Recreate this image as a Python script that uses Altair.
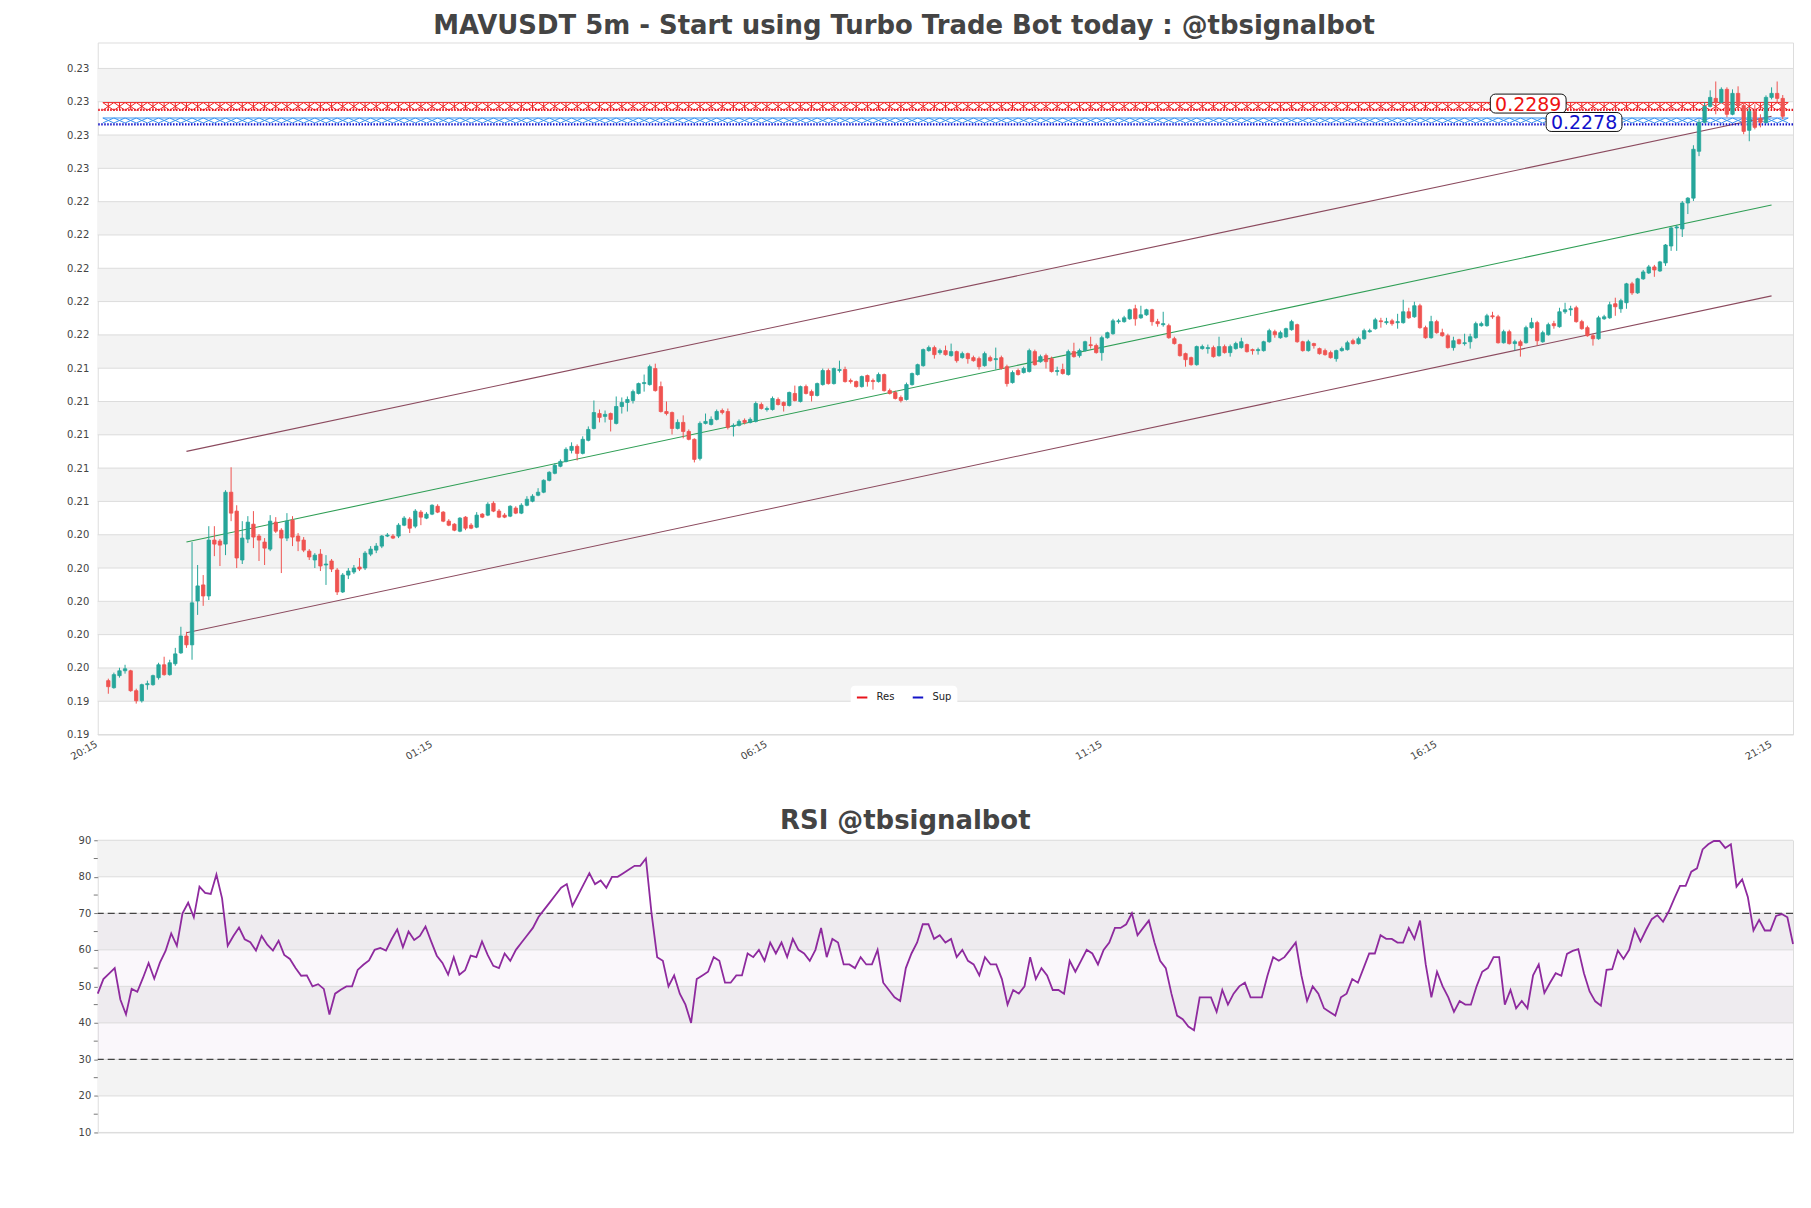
import altair as alt
import pandas as pd

UP = "#26a69a"
DOWN = "#ef5350"

# ---------------- candle data ----------------
opens = [
0.19442, 0.19400, 0.19472, 0.19501, 0.19501, 0.19382, 0.19322, 0.19418, 0.19418, 0.19460,
0.19537, 0.19478, 0.19543, 0.19608, 0.19709, 0.19656, 0.19918, 0.20014, 0.19948, 0.20282,
0.20276, 0.20258, 0.20568, 0.20455, 0.20163, 0.20288, 0.20377, 0.20306, 0.20270, 0.20228,
0.20389, 0.20341, 0.20294, 0.20401, 0.20306, 0.20282, 0.20216, 0.20163, 0.20198, 0.20133,
0.20157, 0.20103, 0.19972, 0.20073, 0.20091, 0.20121, 0.20115, 0.20198, 0.20222, 0.20246,
0.20306, 0.20306, 0.20306, 0.20371, 0.20407, 0.20365, 0.20449, 0.20413, 0.20437, 0.20484,
0.20449, 0.20395, 0.20377, 0.20335, 0.20419, 0.20371, 0.20359, 0.20437, 0.20431, 0.20502,
0.20455, 0.20431, 0.20425, 0.20473, 0.20443, 0.20490, 0.20514, 0.20550, 0.20568, 0.20639,
0.20681, 0.20723, 0.20752, 0.20818, 0.20842, 0.20800, 0.20878, 0.20949, 0.21038, 0.21021,
0.21038, 0.20979, 0.21080, 0.21104, 0.21116, 0.21158, 0.21217, 0.21211, 0.21307, 0.21199,
0.21050, 0.21044, 0.20949, 0.20985, 0.20931, 0.20884, 0.20770, 0.20979, 0.20973, 0.21003,
0.21056, 0.21050, 0.20961, 0.20967, 0.20997, 0.20985, 0.20991, 0.21092, 0.21062, 0.21062,
0.21122, 0.21104, 0.21086, 0.21158, 0.21110, 0.21199, 0.21169, 0.21146, 0.21211, 0.21295,
0.21217, 0.21295, 0.21301, 0.21235, 0.21229, 0.21199, 0.21265, 0.21235, 0.21229, 0.21271,
0.21175, 0.21164, 0.21134, 0.21122, 0.21211, 0.21271, 0.21324, 0.21414, 0.21432, 0.21402,
0.21414, 0.21384, 0.21408, 0.21372, 0.21396, 0.21372, 0.21366, 0.21324, 0.21372, 0.21360,
0.21372, 0.21318, 0.21223, 0.21295, 0.21283, 0.21289, 0.21408, 0.21348, 0.21384, 0.21366,
0.21289, 0.21301, 0.21271, 0.21408, 0.21384, 0.21414, 0.21449, 0.21444, 0.21402, 0.21491,
0.21515, 0.21587, 0.21587, 0.21604, 0.21664, 0.21610, 0.21628, 0.21658, 0.21587, 0.21569,
0.21563, 0.21485, 0.21450, 0.21396, 0.21372, 0.21330, 0.21426, 0.21426, 0.21432, 0.21384,
0.21438, 0.21402, 0.21426, 0.21432, 0.21450, 0.21420, 0.21414, 0.21414, 0.21467, 0.21527,
0.21491, 0.21497, 0.21539, 0.21569, 0.21467, 0.21414, 0.21456, 0.21426, 0.21414, 0.21402,
0.21366, 0.21414, 0.21420, 0.21473, 0.21456, 0.21485, 0.21527, 0.21545, 0.21592, 0.21581,
0.21592, 0.21581, 0.21581, 0.21646, 0.21616, 0.21682, 0.21551, 0.21491, 0.21587, 0.21521,
0.21503, 0.21432, 0.21479, 0.21456, 0.21467, 0.21491, 0.21563, 0.21563, 0.21622, 0.21616,
0.21461, 0.21527, 0.21456, 0.21467, 0.21461, 0.21551, 0.21581, 0.21467, 0.21509, 0.21575,
0.21557, 0.21646, 0.21658, 0.21670, 0.21587, 0.21551, 0.21503, 0.21485, 0.21604, 0.21610,
0.21694, 0.21664, 0.21700, 0.21813, 0.21759, 0.21843, 0.21878, 0.21914, 0.21890, 0.21938,
0.22039, 0.22147, 0.22141, 0.22296, 0.22325, 0.22605, 0.22778, 0.22873, 0.22921, 0.22897,
0.22975, 0.22826, 0.22951, 0.22879, 0.22730, 0.22844, 0.22802, 0.22778, 0.22927, 0.22951, 0.22921]

closes = [
0.19406, 0.19478, 0.19501, 0.19513, 0.19382, 0.19322, 0.19418, 0.19424, 0.19472, 0.19537,
0.19478, 0.19549, 0.19602, 0.19709, 0.19656, 0.19907, 0.20008, 0.19948, 0.20282, 0.20258,
0.20252, 0.20568, 0.20443, 0.20175, 0.20294, 0.20389, 0.20300, 0.20282, 0.20234, 0.20395,
0.20335, 0.20294, 0.20395, 0.20300, 0.20276, 0.20222, 0.20181, 0.20192, 0.20127, 0.20139,
0.20109, 0.19972, 0.20073, 0.20097, 0.20115, 0.20109, 0.20204, 0.20228, 0.20246, 0.20306,
0.20312, 0.20294, 0.20371, 0.20413, 0.20353, 0.20455, 0.20419, 0.20437, 0.20490, 0.20449,
0.20395, 0.20371, 0.20341, 0.20413, 0.20353, 0.20353, 0.20431, 0.20419, 0.20496, 0.20455,
0.20419, 0.20419, 0.20484, 0.20443, 0.20490, 0.20526, 0.20544, 0.20568, 0.20639, 0.20687,
0.20729, 0.20752, 0.20824, 0.20842, 0.20800, 0.20884, 0.20943, 0.21044, 0.21015, 0.21033,
0.21003, 0.21080, 0.21104, 0.21122, 0.21169, 0.21217, 0.21223, 0.21318, 0.21175, 0.21050,
0.21038, 0.20949, 0.20985, 0.20931, 0.20884, 0.20764, 0.20979, 0.20991, 0.21003, 0.21050,
0.21044, 0.20955, 0.20967, 0.20991, 0.20985, 0.21003, 0.21098, 0.21068, 0.21068, 0.21128,
0.21092, 0.21086, 0.21164, 0.21116, 0.21199, 0.21158, 0.21146, 0.21217, 0.21295, 0.21217,
0.21307, 0.21301, 0.21229, 0.21229, 0.21199, 0.21259, 0.21229, 0.21229, 0.21271, 0.21175,
0.21158, 0.21128, 0.21116, 0.21211, 0.21277, 0.21330, 0.21420, 0.21432, 0.21390, 0.21414,
0.21390, 0.21408, 0.21354, 0.21396, 0.21366, 0.21354, 0.21318, 0.21396, 0.21354, 0.21366,
0.21307, 0.21217, 0.21283, 0.21271, 0.21307, 0.21414, 0.21330, 0.21378, 0.21348, 0.21289,
0.21295, 0.21277, 0.21408, 0.21378, 0.21414, 0.21467, 0.21444, 0.21402, 0.21491, 0.21521,
0.21592, 0.21592, 0.21610, 0.21658, 0.21604, 0.21628, 0.21658, 0.21587, 0.21575, 0.21575,
0.21491, 0.21456, 0.21384, 0.21360, 0.21330, 0.21438, 0.21438, 0.21432, 0.21378, 0.21438,
0.21402, 0.21438, 0.21456, 0.21467, 0.21408, 0.21414, 0.21420, 0.21467, 0.21533, 0.21509,
0.21521, 0.21545, 0.21587, 0.21467, 0.21414, 0.21467, 0.21444, 0.21396, 0.21390, 0.21372,
0.21414, 0.21426, 0.21461, 0.21456, 0.21485, 0.21533, 0.21533, 0.21598, 0.21587, 0.21587,
0.21575, 0.21587, 0.21646, 0.21610, 0.21682, 0.21551, 0.21491, 0.21587, 0.21521, 0.21503,
0.21432, 0.21473, 0.21456, 0.21461, 0.21497, 0.21575, 0.21575, 0.21622, 0.21616, 0.21461,
0.21527, 0.21456, 0.21467, 0.21444, 0.21551, 0.21581, 0.21473, 0.21521, 0.21569, 0.21563,
0.21646, 0.21658, 0.21664, 0.21587, 0.21545, 0.21503, 0.21485, 0.21610, 0.21616, 0.21688,
0.21676, 0.21712, 0.21813, 0.21759, 0.21843, 0.21884, 0.21914, 0.21896, 0.21944, 0.22045,
0.22147, 0.22153, 0.22296, 0.22325, 0.22617, 0.22778, 0.22873, 0.22927, 0.22897, 0.22975,
0.22826, 0.22951, 0.22879, 0.22724, 0.22844, 0.22748, 0.22778, 0.22927, 0.22951, 0.22921, 0.22814]

highs = [
0.19454, 0.19490, 0.19519, 0.19537, 0.19507, 0.19394, 0.19424, 0.19442, 0.19478, 0.19549,
0.19585, 0.19567, 0.19638, 0.19764, 0.19734, 0.20270, 0.20133, 0.20073, 0.20365, 0.20365,
0.20288, 0.20580, 0.20717, 0.20490, 0.20395, 0.20425, 0.20455, 0.20318, 0.20294, 0.20431,
0.20419, 0.20353, 0.20443, 0.20425, 0.20324, 0.20300, 0.20228, 0.20204, 0.20228, 0.20192,
0.20169, 0.20115, 0.20085, 0.20115, 0.20133, 0.20175, 0.20216, 0.20246, 0.20264, 0.20312,
0.20324, 0.20318, 0.20383, 0.20425, 0.20419, 0.20467, 0.20461, 0.20449, 0.20496, 0.20496,
0.20455, 0.20407, 0.20383, 0.20419, 0.20425, 0.20383, 0.20449, 0.20443, 0.20508, 0.20514,
0.20467, 0.20443, 0.20490, 0.20484, 0.20502, 0.20544, 0.20556, 0.20592, 0.20645, 0.20693,
0.20741, 0.20764, 0.20836, 0.20866, 0.20854, 0.20902, 0.20961, 0.21116, 0.21062, 0.21056,
0.21044, 0.21140, 0.21134, 0.21140, 0.21181, 0.21223, 0.21271, 0.21330, 0.21336, 0.21229,
0.21110, 0.21050, 0.21003, 0.21027, 0.20943, 0.20890, 0.20991, 0.21038, 0.21021, 0.21062,
0.21068, 0.21068, 0.20979, 0.21003, 0.21009, 0.21015, 0.21110, 0.21104, 0.21080, 0.21140,
0.21134, 0.21110, 0.21169, 0.21205, 0.21205, 0.21211, 0.21181, 0.21223, 0.21307, 0.21307,
0.21313, 0.21354, 0.21318, 0.21247, 0.21235, 0.21265, 0.21271, 0.21247, 0.21283, 0.21277,
0.21187, 0.21175, 0.21146, 0.21223, 0.21283, 0.21336, 0.21426, 0.21444, 0.21444, 0.21426,
0.21444, 0.21456, 0.21414, 0.21408, 0.21402, 0.21384, 0.21378, 0.21408, 0.21384, 0.21432,
0.21384, 0.21330, 0.21295, 0.21307, 0.21318, 0.21426, 0.21420, 0.21390, 0.21396, 0.21378,
0.21318, 0.21336, 0.21420, 0.21461, 0.21426, 0.21473, 0.21497, 0.21456, 0.21503, 0.21527,
0.21604, 0.21604, 0.21622, 0.21664, 0.21688, 0.21682, 0.21664, 0.21664, 0.21604, 0.21646,
0.21575, 0.21497, 0.21456, 0.21402, 0.21378, 0.21444, 0.21450, 0.21450, 0.21444, 0.21497,
0.21450, 0.21450, 0.21467, 0.21491, 0.21456, 0.21426, 0.21432, 0.21473, 0.21545, 0.21539,
0.21533, 0.21551, 0.21598, 0.21575, 0.21473, 0.21479, 0.21461, 0.21432, 0.21426, 0.21414,
0.21420, 0.21438, 0.21473, 0.21485, 0.21497, 0.21545, 0.21545, 0.21610, 0.21610, 0.21610,
0.21604, 0.21634, 0.21718, 0.21670, 0.21706, 0.21694, 0.21563, 0.21622, 0.21598, 0.21545,
0.21515, 0.21497, 0.21485, 0.21515, 0.21515, 0.21587, 0.21587, 0.21634, 0.21646, 0.21628,
0.21539, 0.21539, 0.21479, 0.21479, 0.21563, 0.21610, 0.21592, 0.21533, 0.21581, 0.21592,
0.21670, 0.21700, 0.21682, 0.21682, 0.21598, 0.21563, 0.21515, 0.21622, 0.21628, 0.21706,
0.21730, 0.21724, 0.21819, 0.21825, 0.21849, 0.21896, 0.21926, 0.21926, 0.21950, 0.22051,
0.22153, 0.22165, 0.22308, 0.22331, 0.22641, 0.22796, 0.22897, 0.22969, 0.23022, 0.22987,
0.22987, 0.22975, 0.22993, 0.22897, 0.22867, 0.22885, 0.22826, 0.22939, 0.22987, 0.23022, 0.22941]

lows = [
0.19364, 0.19394, 0.19460, 0.19484, 0.19376, 0.19305, 0.19311, 0.19388, 0.19412, 0.19448,
0.19472, 0.19472, 0.19531, 0.19602, 0.19638, 0.19567, 0.19835, 0.19889, 0.19924, 0.20186,
0.20127, 0.20192, 0.20395, 0.20115, 0.20139, 0.20264, 0.20234, 0.20157, 0.20133, 0.20216,
0.20324, 0.20085, 0.20276, 0.20246, 0.20216, 0.20210, 0.20163, 0.20115, 0.20097, 0.20014,
0.20091, 0.19954, 0.19966, 0.20049, 0.20079, 0.20097, 0.20103, 0.20186, 0.20204, 0.20234,
0.20300, 0.20288, 0.20294, 0.20365, 0.20324, 0.20353, 0.20371, 0.20407, 0.20431, 0.20443,
0.20389, 0.20365, 0.20335, 0.20329, 0.20341, 0.20347, 0.20353, 0.20413, 0.20425, 0.20449,
0.20413, 0.20413, 0.20419, 0.20437, 0.20437, 0.20484, 0.20508, 0.20544, 0.20562, 0.20633,
0.20675, 0.20717, 0.20746, 0.20800, 0.20758, 0.20794, 0.20872, 0.20943, 0.20985, 0.20985,
0.20931, 0.20973, 0.21038, 0.21050, 0.21098, 0.21152, 0.21169, 0.21205, 0.21169, 0.21044,
0.21027, 0.20913, 0.20943, 0.20890, 0.20878, 0.20746, 0.20758, 0.20973, 0.20967, 0.20997,
0.21033, 0.20943, 0.20901, 0.20961, 0.20973, 0.20979, 0.20985, 0.21062, 0.21050, 0.21056,
0.21086, 0.21050, 0.21080, 0.21110, 0.21104, 0.21152, 0.21110, 0.21140, 0.21205, 0.21211,
0.21211, 0.21283, 0.21223, 0.21217, 0.21193, 0.21193, 0.21199, 0.21181, 0.21223, 0.21169,
0.21152, 0.21122, 0.21104, 0.21116, 0.21205, 0.21265, 0.21318, 0.21408, 0.21366, 0.21390,
0.21384, 0.21378, 0.21342, 0.21366, 0.21336, 0.21348, 0.21301, 0.21318, 0.21348, 0.21301,
0.21301, 0.21199, 0.21217, 0.21265, 0.21277, 0.21283, 0.21324, 0.21342, 0.21307, 0.21283,
0.21265, 0.21271, 0.21265, 0.21372, 0.21372, 0.21408, 0.21426, 0.21396, 0.21354, 0.21485,
0.21509, 0.21575, 0.21581, 0.21598, 0.21563, 0.21604, 0.21622, 0.21563, 0.21557, 0.21557,
0.21485, 0.21450, 0.21378, 0.21318, 0.21324, 0.21324, 0.21420, 0.21396, 0.21372, 0.21378,
0.21396, 0.21378, 0.21420, 0.21426, 0.21402, 0.21390, 0.21390, 0.21408, 0.21461, 0.21491,
0.21485, 0.21491, 0.21533, 0.21461, 0.21408, 0.21408, 0.21426, 0.21390, 0.21384, 0.21366,
0.21348, 0.21408, 0.21414, 0.21450, 0.21450, 0.21479, 0.21521, 0.21539, 0.21551, 0.21569,
0.21563, 0.21545, 0.21575, 0.21604, 0.21610, 0.21545, 0.21485, 0.21485, 0.21515, 0.21497,
0.21426, 0.21414, 0.21450, 0.21444, 0.21426, 0.21485, 0.21557, 0.21557, 0.21604, 0.21456,
0.21456, 0.21450, 0.21414, 0.21378, 0.21456, 0.21545, 0.21444, 0.21461, 0.21503, 0.21545,
0.21551, 0.21634, 0.21622, 0.21581, 0.21539, 0.21497, 0.21444, 0.21479, 0.21598, 0.21604,
0.21622, 0.21640, 0.21664, 0.21747, 0.21753, 0.21837, 0.21872, 0.21855, 0.21884, 0.21920,
0.22010, 0.22010, 0.22093, 0.22230, 0.22308, 0.22576, 0.22772, 0.22867, 0.22826, 0.22891,
0.22808, 0.22820, 0.22855, 0.22707, 0.22665, 0.22736, 0.22748, 0.22772, 0.22915, 0.22897, 0.22796]

rsi_values = [
48.0, 52.0, 53.5, 55.0, 46.4, 42.3, 49.3, 48.5, 52.3, 56.4,
52.1, 56.5, 59.7, 64.5, 61.1, 70.0, 72.9, 68.9, 77.3, 75.6,
75.3, 80.6, 74.1, 61.1, 63.8, 66.1, 62.9, 62.1, 59.8, 63.8,
61.4, 59.8, 62.5, 58.6, 57.5, 55.0, 52.9, 53.0, 50.0, 50.6,
49.3, 42.3, 48.0, 49.1, 50.0, 50.0, 54.5, 55.9, 57.1, 60.0,
60.5, 59.8, 62.9, 65.6, 60.7, 65.0, 62.7, 63.8, 66.4, 62.3,
58.4, 56.4, 53.2, 58.0, 53.2, 54.4, 58.4, 58.0, 62.3, 58.6,
55.6, 55.0, 59.0, 57.0, 60.0, 62.0, 64.0, 66.0, 69.0, 71.0,
73.0, 75.0, 77.0, 78.0, 72.0, 75.0, 78.0, 81.0, 78.0, 79.0,
77.0, 80.0, 80.0, 81.0, 82.0, 83.0, 83.0, 85.0, 70.0, 58.0,
57.0, 50.0, 53.0, 48.0, 45.0, 40.0, 52.0, 53.0, 54.0, 58.0,
57.0, 51.0, 51.0, 53.0, 53.0, 59.0, 58.0, 60.0, 57.0, 62.0,
59.0, 62.0, 58.0, 63.0, 60.0, 59.0, 57.0, 60.0, 66.0, 58.0,
63.0, 62.0, 56.0, 56.0, 55.0, 58.0, 56.0, 56.0, 60.0, 51.0,
49.0, 47.0, 46.0, 55.0, 59.0, 62.0, 67.0, 67.0, 63.0, 64.0,
62.0, 63.0, 58.0, 60.0, 57.0, 56.0, 53.0, 58.0, 56.0, 56.0,
52.0, 45.0, 49.0, 48.0, 50.0, 58.0, 52.0, 55.0, 53.0, 49.0,
49.0, 48.0, 57.0, 54.0, 57.0, 60.0, 59.0, 56.0, 60.0, 62.0,
66.0, 66.0, 67.0, 70.0, 64.0, 66.0, 68.0, 62.0, 57.0, 55.0,
48.0, 42.0, 41.0, 39.0, 38.0, 47.0, 47.0, 47.0, 43.0, 49.0,
45.0, 48.0, 50.0, 51.0, 47.0, 47.0, 47.0, 53.0, 58.0, 57.0,
58.0, 60.0, 62.0, 53.0, 46.0, 50.0, 48.0, 44.0, 43.0, 42.0,
47.0, 48.0, 52.0, 51.0, 55.0, 59.0, 59.0, 64.0, 63.0, 63.0,
62.0, 62.0, 66.0, 63.0, 68.0, 56.0, 47.0, 54.0, 50.0, 47.0,
43.0, 46.0, 45.0, 45.0, 50.0, 54.0, 55.0, 58.0, 58.0, 45.0,
49.0, 44.0, 46.0, 44.0, 53.0, 56.0, 48.2, 51.0, 53.6, 52.9,
58.9, 59.7, 60.2, 53.6, 48.6, 45.9, 44.7, 54.5, 54.7, 59.8,
57.5, 60.0, 65.6, 62.3, 65.5, 68.4, 69.5, 67.7, 70.5, 74.1,
77.5, 77.5, 81.4, 82.3, 87.5, 88.9, 89.8, 89.8, 87.9, 88.9,
77.3, 79.3, 74.5, 65.3, 68.2, 65.3, 65.3, 69.3, 69.8, 68.9, 61.6]

# ---------------- axes / annotation values ----------------
first_candle = "2024-01-01 20:20"
x_domain_times = ["2024-01-01 20:15", "2024-01-02 21:24:45"]
x_tick_times = ["2024-01-01 20:15", "2024-01-02 01:15", "2024-01-02 06:15",
                "2024-01-02 11:15", "2024-01-02 16:15", "2024-01-02 21:15"]

y_ticks = [0.1912, 0.19319, 0.19518, 0.19717, 0.19916, 0.20115, 0.20314, 0.20513,
           0.20712, 0.20911, 0.2111, 0.21309, 0.21508, 0.21707, 0.21906, 0.22105,
           0.22304, 0.22503, 0.22702, 0.22901, 0.231]
y_top = 0.23255

rsi_ticks = [10, 20, 30, 40, 50, 60, 70, 80, 90]
rsi_minor = [15, 25, 35, 45, 55, 65, 75, 85]
rsi_low, rsi_high = 30, 70

res_label, sup_label = 0.2289, 0.2278
res_marker_level, res_line_level = 0.22873, 0.22852
sup_marker_level, sup_line_level = 0.22789, 0.22766
res_label_time, sup_label_time = "2024-01-02 17:32", "2024-01-02 18:22"

trend_names = ["upper", "middle", "lower"]
trend_start_time, trend_end_time = "2024-01-01 21:30", "2024-01-02 21:10"
trend_start = [0.20812, 0.20270, 0.19728]
trend_end = [0.22814, 0.22284, 0.21741]

FONT = "DejaVu Sans"


def dt(s):
    ts = pd.Timestamp(s)
    return alt.DateTime(year=ts.year, month=ts.month, date=ts.day,
                        hours=ts.hour, minutes=ts.minute, seconds=ts.second)


def iso(s):
    return pd.Timestamp(s).strftime("%Y-%m-%dT%H:%M:%S")


n = min(len(opens), len(highs), len(lows), len(closes))
times = pd.date_range(first_candle, periods=n, freq="5min")
tstr = list(times.strftime("%Y-%m-%dT%H:%M:%S"))

candles = pd.DataFrame({"t": tstr, "open": opens[:n], "high": highs[:n],
                        "low": lows[:n], "close": closes[:n]})

x_scale = alt.Scale(domain=[dt(x_domain_times[0]), dt(x_domain_times[1])], nice=False)
y_scale = alt.Scale(domain=[y_ticks[0], y_top], nice=False, zero=False)

x_axis = alt.Axis(values=[dt(s) for s in x_tick_times], format="%H:%M", labelAngle=330,
                  labelAlign="right", labelBaseline="top", labelFontSize=10,
                  labelColor="#444444", labelFont=FONT, ticks=False, domain=False,
                  grid=False, title=None, labelPadding=4, labelOffset=-9)
y_axis = alt.Axis(values=y_ticks, format=".2f", labelFontSize=10, labelColor="#444444",
                  labelFont=FONT, ticks=False, domain=False, grid=False, title=None,
                  minExtent=84, maxExtent=84, labelPadding=9)

X = alt.X("t:T", scale=x_scale, axis=x_axis)

# bands
band_lo = [y_ticks[k] for k in range(1, len(y_ticks) - 1, 2)]
band_hi = [y_ticks[k + 1] for k in range(1, len(y_ticks) - 1, 2)]
bands = alt.Chart(pd.DataFrame({"lo": band_lo, "hi": band_hi})).mark_rect(color="#f3f3f3").encode(
    x=alt.value(0), x2=alt.value("width"),
    y=alt.Y("lo:Q", scale=y_scale, axis=y_axis), y2="hi:Q")

grid = alt.Chart(pd.DataFrame({"v": y_ticks})).mark_rule(color="#dcdcdc", strokeWidth=1).encode(
    y=alt.Y("v:Q", scale=y_scale, axis=y_axis))

trend_rows = []
for nm, a, b in zip(trend_names, trend_start, trend_end):
    trend_rows.append({"name": nm, "t": iso(trend_start_time), "price": a})
    trend_rows.append({"name": nm, "t": iso(trend_end_time), "price": b})
trend_df = pd.DataFrame(trend_rows)

trend_outer = alt.Chart(trend_df[trend_df["name"] != "middle"]).mark_line(
    color="#8b4a5e", strokeWidth=1.1).encode(
    x=X, y=alt.Y("price:Q", scale=y_scale, axis=y_axis), detail="name:N")
trend_mid = alt.Chart(trend_df[trend_df["name"] == "middle"]).mark_line(
    color="#2f9e55", strokeWidth=1.1).encode(
    x=X, y=alt.Y("price:Q", scale=y_scale, axis=y_axis))

RES_SHAPE = "M-1,-0.7L1,0.7M-1,0.7L1,-0.7M-1,-0.7L1,-0.7M0,-0.7L0,0.7"
SUP_SHAPE = "M-1,-0.45L1,0.45M-1,0.45L1,-0.45M-1,-0.45L1,-0.45"

res_mk = alt.Chart(pd.DataFrame({"t": tstr[::2], "price": res_marker_level})).mark_point(
    shape=RES_SHAPE, filled=False, size=121, strokeWidth=1, color="#f01818", opacity=0.95).encode(
    x=X, y=alt.Y("price:Q", scale=y_scale, axis=y_axis))
sup_mk = alt.Chart(pd.DataFrame({"t": tstr[::2], "price": sup_marker_level})).mark_point(
    shape=SUP_SHAPE, filled=False, size=121, strokeWidth=1, color="#2e8ef0", opacity=0.95).encode(
    x=X, y=alt.Y("price:Q", scale=y_scale, axis=y_axis))

levels = alt.Chart(pd.DataFrame({"kind": ["Res", "Sup"],
                                 "price": [res_line_level, sup_line_level]})).mark_rule(
    strokeDash=[1.5, 1.5], strokeWidth=2.2).encode(
    y=alt.Y("price:Q", scale=y_scale, axis=y_axis),
    color=alt.Color("kind:N", scale=alt.Scale(domain=["Res", "Sup"], range=["#e8141c", "#1414c8"]),
                    legend=alt.Legend(orient="none", legendX=755, legendY=645, direction="horizontal",
                                      title=None, symbolType="stroke", symbolStrokeWidth=2,
                                      symbolSize=110, symbolDash=[4, 0], labelFontSize=10,
                                      labelFont=FONT, labelColor="#222222", fillColor="white",
                                      cornerRadius=4, padding=5, columnPadding=14, labelOffset=8)))

col = alt.condition("datum.close >= datum.open", alt.value(UP), alt.value(DOWN))
wicks = alt.Chart(candles).mark_rule(strokeWidth=1).encode(
    x=X, y=alt.Y("low:Q", scale=y_scale, axis=y_axis), y2="high:Q", color=col)
bodies = alt.Chart(candles).mark_bar(width=3.4, strokeWidth=0.8).encode(
    x=X, y=alt.Y("open:Q", scale=y_scale, axis=y_axis), y2="close:Q", fill=col, stroke=col)

label_layers = []
for lt, lv, lc in [(res_label_time, res_label, "#ee1111"), (sup_label_time, sup_label, "#1111cc")]:
    ldf = pd.DataFrame({"t": [iso(lt)], "price": [lv], "text": [f"{lv:.4f}"]})
    label_layers.append(alt.Chart(ldf).mark_rect(width=76, height=19, cornerRadius=5, fill="white",
                                                 stroke="#111111", strokeWidth=1).encode(
        x=X, y=alt.Y("price:Q", scale=y_scale, axis=y_axis)))
    label_layers.append(alt.Chart(ldf).mark_text(fontSize=19, font=FONT, color=lc, align="center",
                                                 baseline="middle", dy=1).encode(
        x=X, y=alt.Y("price:Q", scale=y_scale, axis=y_axis), text="text:N"))

main = alt.layer(bands, grid, trend_outer, trend_mid, res_mk, sup_mk, levels, wicks, bodies,
                 *label_layers).properties(
    width=1700, height=694,
    title=alt.TitleParams("MAVUSDT 5m - Start using Turbo Trade Bot today : @tbsignalbot",
                          fontSize=26, fontWeight="bold", color="#444444", font=FONT,
                          anchor="middle", frame="bounds", offset=4))

# ---------------- RSI panel ----------------
rsi_df = pd.DataFrame({"t": tstr[:len(rsi_values)], "rsi": rsi_values[:n]})
rsi_x_scale = alt.Scale(domain=[dt(times[0]), dt(times[len(rsi_df) - 1])], nice=False)
rsi_y_scale = alt.Scale(domain=[rsi_ticks[0], rsi_ticks[-1]], nice=False, zero=False)
rsi_y_axis = alt.Axis(values=rsi_ticks, format="d", tickSize=4, tickColor="#777777",
                      labelFontSize=10, labelColor="#444444", labelFont=FONT, domain=False,
                      grid=False, title=None, minExtent=84, maxExtent=84, labelPadding=3)
RY = lambda f: alt.Y(f, scale=rsi_y_scale, axis=rsi_y_axis)

r_lo = [rsi_ticks[k] for k in range(1, len(rsi_ticks) - 1, 2)]
r_hi = [rsi_ticks[k + 1] for k in range(1, len(rsi_ticks) - 1, 2)]
rsi_bands = alt.Chart(pd.DataFrame({"lo": r_lo, "hi": r_hi})).mark_rect(color="#f3f3f3").encode(
    x=alt.value(0), x2=alt.value("width"), y=RY("lo:Q"), y2="hi:Q")
hatch = alt.Chart(pd.DataFrame({"lo": [rsi_low], "hi": [rsi_high]})).mark_rect(
    color="#9b59b6", opacity=0.05).encode(
    x=alt.value(0), x2=alt.value("width"), y=RY("lo:Q"), y2="hi:Q")
rsi_grid = alt.Chart(pd.DataFrame({"v": rsi_ticks})).mark_rule(color="#dcdcdc", strokeWidth=1).encode(
    y=RY("v:Q"))
rsi_minor_ticks = alt.Chart(pd.DataFrame({"v": rsi_minor})).mark_rule(color="#777777", strokeWidth=1).encode(
    y=RY("v:Q"), x=alt.value(-4), x2=alt.value(0))
rsi_levels = alt.Chart(pd.DataFrame({"v": [rsi_low, rsi_high]})).mark_rule(
    color="#444444", strokeDash=[7, 4], strokeWidth=1.3).encode(y=RY("v:Q"))
rsi_line = alt.Chart(rsi_df).mark_line(color="#8e2a9e", strokeWidth=1.8).encode(
    x=alt.X("t:T", scale=rsi_x_scale, axis=None), y=RY("rsi:Q"))

rsi = alt.layer(rsi_bands, hatch, rsi_grid, rsi_minor_ticks, rsi_levels, rsi_line).properties(
    width=1700, height=293,
    title=alt.TitleParams("RSI @tbsignalbot", fontSize=26, fontWeight="bold", color="#444444",
                          font=FONT, anchor="middle", frame="bounds", offset=1))

chart = alt.vconcat(main, rsi, spacing=45).properties(
    padding={"left": 5, "top": 2, "right": 5, "bottom": 5}).configure(font=FONT).configure_view(
    stroke="#dddddd", strokeWidth=1)

chart.save("out.html", embed_options={"renderer": "svg", "actions": False})
